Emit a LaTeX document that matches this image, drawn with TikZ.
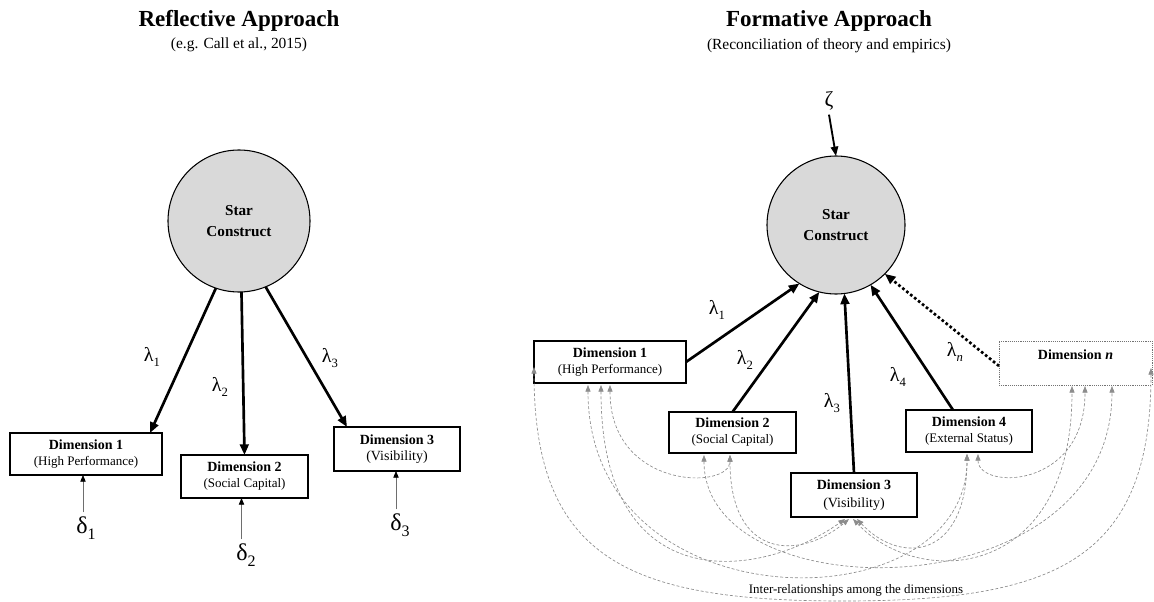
\documentclass[tikz,border=0pt]{standalone}
\usepackage{fontspec}
\setmainfont{Liberation Serif}
\usetikzlibrary{arrows.meta,calc}
\definecolor{starfill}{HTML}{D9D9D9}
\definecolor{relgray}{HTML}{8C8C8C}
\definecolor{dgray}{HTML}{6E6E6E}
\newcommand\lamlab[1]{λ\raisebox{-0.22em}{\fontsize{9.5}{9.5}\selectfont #1}}
\newcommand\dellab[1]{δ\raisebox{-0.25em}{\fontsize{12}{12}\selectfont #1}}
\begin{document}
\begin{tikzpicture}[x=0.75pt,y=-0.75pt,
  title/.style={font=\fontsize{17.25}{20}\selectfont\bfseries, anchor=base, inner sep=0pt},
  subtitle/.style={font=\fontsize{11.6}{14}\selectfont, anchor=base, inner sep=0pt},
  star/.style={circle, draw=black, line width=0.8pt, fill=starfill, inner sep=0pt, outer sep=0pt, align=center, font=\fontsize{11.4}{15.75}\selectfont\bfseries},
  dimbox/.style={draw=black, line width=0.8pt, fill=white, inner sep=0pt, outer sep=0pt, align=center, font=\fontsize{10.5}{12}\selectfont},
  dimboxn/.style={dimbox, draw=black!55, line width=0.7pt, dash pattern=on 0.7pt off 0.7pt},
  loadarrow/.style={line width=2pt, -{Triangle[length=8pt,width=6.5pt]}},
  lamlabel/.style={font=\fontsize{15}{15}\selectfont, inner sep=0pt},
  dellabel/.style={font=\fontsize{18}{18}\selectfont, inner sep=3pt},
  errarrow/.style={draw=dgray, line width=0.6pt, -{Triangle[length=5pt,width=4pt,color=black]}},
  interrel/.style={draw=relgray, line width=0.5pt, dash pattern=on 2.2pt off 1.5pt, {Triangle[length=5pt,width=3.8pt]}-{Triangle[length=5pt,width=3.8pt]}}
]
\useasboundingbox (0,0) rectangle (1154,602);

% titles
\node[title] (tL) at (239,27) {Reflective Approach};
\node[subtitle] (sL) at (239,49) {(e.g. Call et al., 2015)};
\node[title] (tR) at (829,27) {Formative Approach};
\node[subtitle] (sR) at (829,50) {(Reconciliation of theory and empirics)};

% ---------- reflective ----------
\node[star, minimum size=106.5pt] (SL) at (239,221) {Star\\Construct};
\node[dimbox, minimum width=114pt, minimum height=31.5pt] (D1L) at (86,454) {\textbf{Dimension 1}\\{\fontsize{9.75}{12}\selectfont (High Performance)}};
\node[dimbox, minimum width=95.25pt, minimum height=32.25pt] (D2L) at (244.5,476.5) {\textbf{Dimension 2}\\{\fontsize{9.75}{12}\selectfont (Social Capital)}};
\node[dimbox, minimum width=94.5pt, minimum height=33pt] (D3L) at (397,449) {\textbf{Dimension 3}\\(Visibility)};

\draw[loadarrow] (SL.251) -- ($(D1L.north east)+(-12,0)$);
\draw[loadarrow] (SL.272) -- (D2L.north);
\draw[loadarrow] (SL.292) -- ($(D3L.north west)+(13,0)$);

\node[lamlabel] (l1L) at (152,357) {\lamlab{1}};
\node[lamlabel] (l2L) at (220,387) {\lamlab{2}};
\node[lamlabel] (l3L) at (330,358) {\lamlab{3}};

\node[dellabel] (d1) at (86,528) {\dellab{1}};
\node[dellabel] (d2) at (246,555) {\dellab{2}};
\node[dellabel] (d3) at (400,525) {\dellab{3}};
\draw[errarrow] ($(d1.north -| D1L.south)+(-3,0)$) -- ($(D1L.south)+(-3,0)$);
\draw[errarrow] ($(d2.north -| D2L.south)+(-3,0)$) -- ($(D2L.south)+(-3,0)$);
\draw[errarrow] ($(d3.north -| D3L.south)+(-1,0)$) -- ($(D3L.south)+(-1,0)$);

% ---------- formative ----------
\node[star, minimum size=103.5pt] (SR) at (836,225) {Star\\Construct};
\node[font=\fontsize{16}{16}\selectfont, inner sep=3pt] (zeta) at (829,101) {ζ};
\draw[line width=1.4pt, -{Triangle[length=7pt,width=5.5pt]}] (zeta.south) -- (SR.north);

\node[dimbox, minimum width=114pt, minimum height=31.5pt] (D1R) at (610,362) {\textbf{Dimension 1}\\{\fontsize{9.75}{12}\selectfont (High Performance)}};
\node[dimbox, minimum width=95.25pt, minimum height=30.75pt] (D2R) at (732.5,432.5) {\textbf{Dimension 2}\\{\fontsize{9.75}{12}\selectfont (Social Capital)}};
\node[dimbox, minimum width=94.5pt, minimum height=33pt] (D3R) at (854,495) {\textbf{Dimension 3}\\[1.5pt](Visibility)};
\node[dimbox, minimum width=94.5pt, minimum height=31.5pt] (D4R) at (969,431) {\textbf{Dimension 4}\\{\fontsize{9.75}{12}\selectfont (External Status)}};
\node[dimboxn, minimum width=114.75pt, minimum height=33pt] (DnR) at (1075.5,363) {\textbf{Dimension \textit{n}}\\\mbox{}};

\draw[loadarrow] (D1R.east) -- (SR.238);
\draw[loadarrow] (D2R.north) -- (SR.256);
\draw[loadarrow] (D3R.north) -- (SR.277);
\draw[loadarrow] ($(D4R.north)+(-16,0)$) -- (SR.300);
\draw[loadarrow, dash pattern=on 2pt off 1.8pt] ($(DnR.west)+(0,3)$) -- (SR.315);

\node[lamlabel] (l1R) at (717,310) {\lamlab{1}};
\node[lamlabel] (l2R) at (745,360) {\lamlab{2}};
\node[lamlabel] (l3R) at (832,403) {\lamlab{3}};
\node[lamlabel] (l4R) at (898,377) {\lamlab{4}};
\node[lamlabel] (lnR) at (955,352) {\lamlab{\textit{n}}};

% inter-relationships
\draw[interrel] ($(D1R.south west)+(0,-16)$) .. controls (534,560) and (630,601) .. (843,601) .. controls (1056,601) and (1151,560) .. ($(DnR.south east)+(-1,-17)$);
\draw[interrel] ($(D1R.south)+(-22,2)$) .. controls (588,627) and (967,627) .. ($(D4R.south)+(-2,2)$);
\draw[interrel] ($(D1R.south)+(-9,2)$) .. controls (601,600) and (760,580) .. ($(D3R.south)+(-9,2)$);
\draw[interrel] ($(D1R.south)+(0,2)$) .. controls (610,490) and (730,490) .. ($(D2R.south)+(-2.5,2)$);
\draw[interrel] ($(D2R.south)+(-28.5,2)$) .. controls (704,613) and (1112,613) .. ($(DnR.south)+(36.5,1)$);
\draw[interrel] ($(D2R.south)+(-2.5,2)$) .. controls (730,560) and (800,560) .. ($(D3R.south)+(-5,2)$);
\draw[interrel] ($(D3R.south)+(3,2)$) .. controls (900,565) and (967,560) .. ($(D4R.south)+(-2,2)$);
\draw[interrel] ($(D3R.south)+(-1,2)$) .. controls (920,590) and (1072,580) .. ($(DnR.south)+(-3.5,1)$);
\draw[interrel] ($(D4R.south)+(9,2)$) .. controls (978,490) and (1085,490) .. ($(DnR.south)+(9.5,1)$);

\node[font=\fontsize{9.7}{12}\selectfont, inner sep=1pt] (irel) at (856,590) {Inter-relationships among the dimensions};
\end{tikzpicture}
\end{document}
